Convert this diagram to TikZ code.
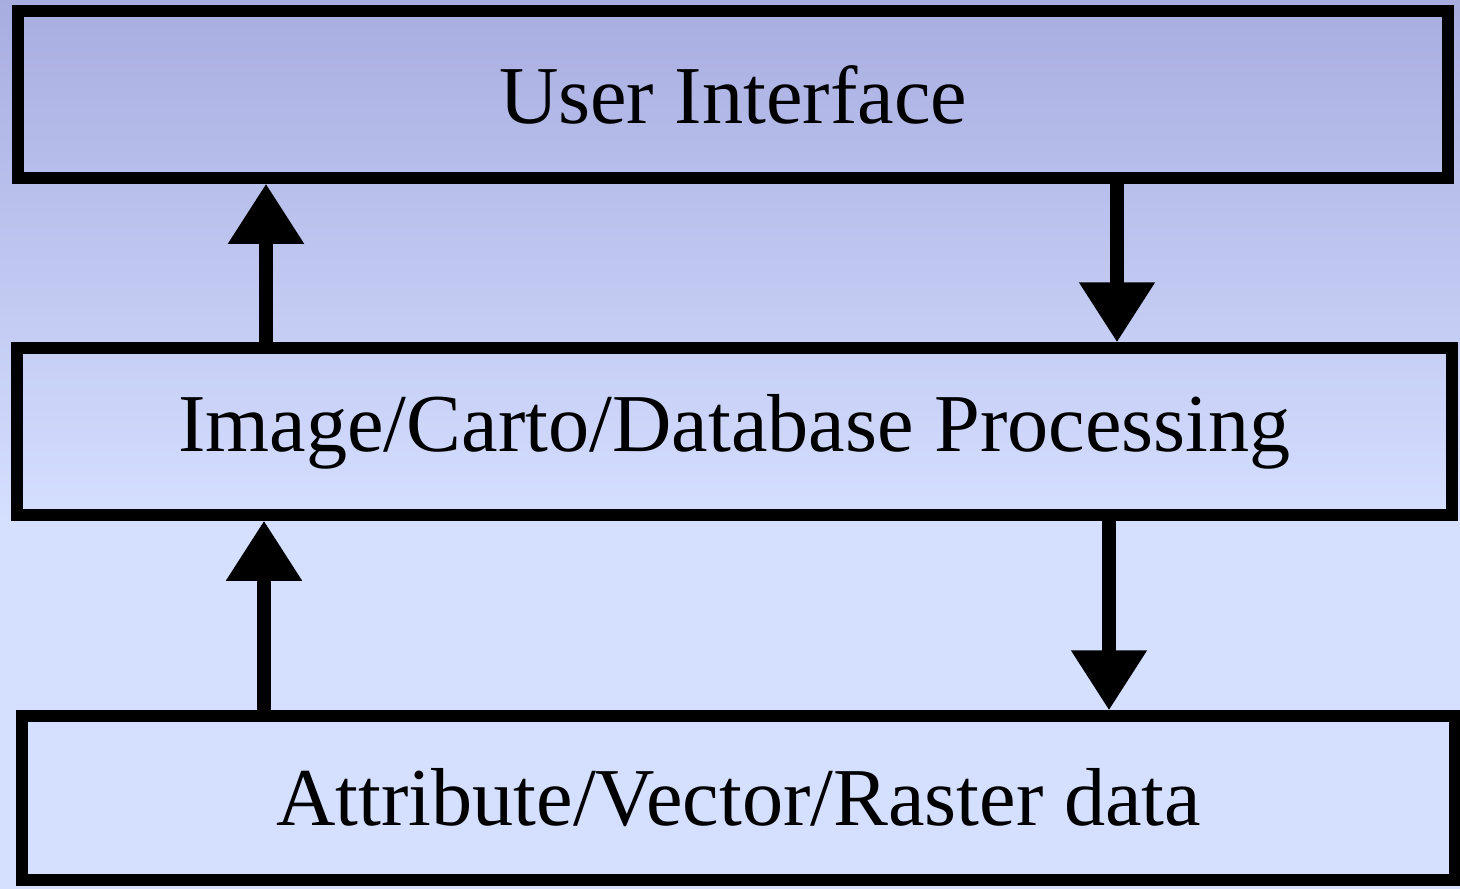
\documentclass[tikz,border=0pt]{standalone}
\usepackage{fontspec}
\setmainfont{Liberation Serif}
\usetikzlibrary{arrows.meta}
\definecolor{bgtop}{RGB}{168,173,224}
\definecolor{bgbot}{RGB}{213,223,255}
\tikzset{
	layer/.style={draw=black, line width=0.23cm, rectangle, inner sep=0pt, font=\fontsize{46.8}{50}\selectfont},
	flow/.style={line width=0.27cm, -{Triangle[width=1.45cm, length=1.2cm]}}
}
\begin{document}
\begin{tikzpicture}
	% Background:
	\shade[top color=bgtop, bottom color=bgbot] (0, 0) rectangle (29.2, -10.4);
	\fill[bgbot] (0, -10.39) rectangle (29.2, -17.78);
	\useasboundingbox (0, 0) rectangle (29.2, -17.78);
	% Layers:
	\node[layer, minimum width=28.6cm, minimum height=3.34cm] (ui) at (14.66, -1.89){User Interface};
	\node[layer, minimum width=28.7cm, minimum height=3.34cm] (proc) at (14.69, -8.63){Image/Carto/Database Processing};
	\node[layer, minimum width=28.66cm, minimum height=3.28cm] (data) at (14.77, -15.96){Attribute/Vector/Raster data};
	% Arrows:
	\draw[flow] (proc.north -| 5.32, 0) -- (ui.south -| 5.32, 0);
	\draw[flow] (ui.south -| 22.34, 0) -- (proc.north -| 22.34, 0);
	\draw[flow] (data.north -| 5.28, 0) -- (proc.south -| 5.28, 0);
	\draw[flow] (proc.south -| 22.18, 0) -- (data.north -| 22.18, 0);
\end{tikzpicture}
\end{document}
